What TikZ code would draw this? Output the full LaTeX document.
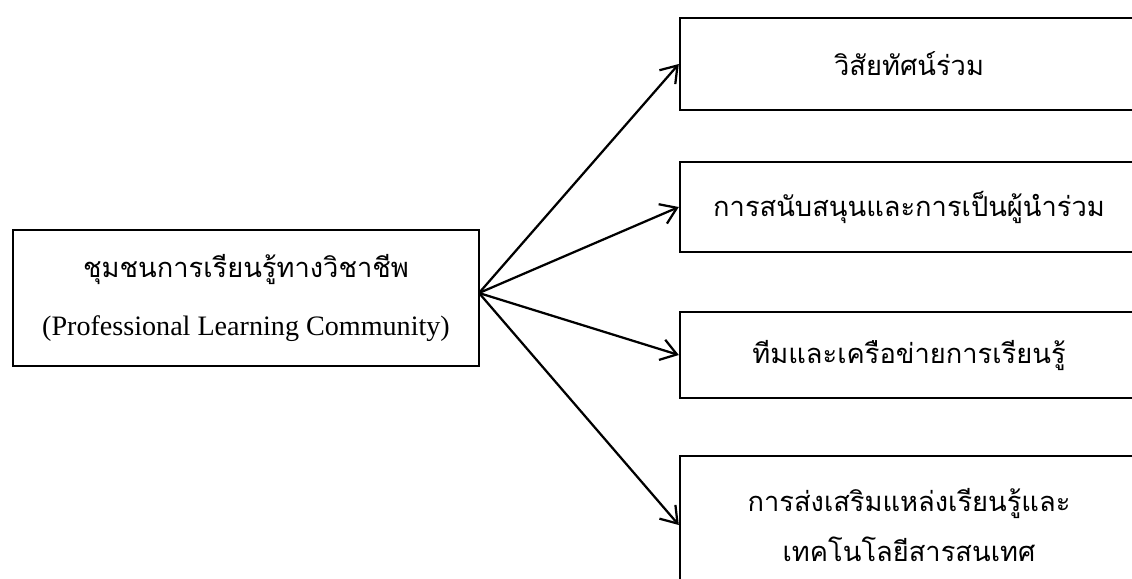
\documentclass[tikz,border=0pt]{standalone}
\usepackage{fontspec}
\setmainfont{Liberation Serif}
\newfontfamily\thaifont[Script=Thai, Scale=0.97]{Loma}
\usetikzlibrary{arrows.meta, positioning}

\tikzset{
  box/.style={draw=black, line width=1.7pt, align=center, inner sep=0pt,
    font=\fontsize{20}{41}\selectfont},
  link/.style={line width=1.6pt, -{Straight Barb[length=11pt, width=15pt]}}
}

\begin{document}
\begin{tikzpicture}
  \clip (0,0) rectangle (28.3,-14.45);
  % Main concept
  \node[box, minimum width=11.65cm, minimum height=3.4cm] (plc) at (6.15,-7.45)
    {{\thaifont ชุมชนการเรียนรู้ทางวิชาชีพ}\\(Professional Learning Community)};
  \coordinate (hub) at (11.975,-7.325);
  % Components
  \node[box, minimum width=11.45cm, minimum height=2.3cm] (vision) at (22.725,-1.6)
    {\thaifont วิสัยทัศน์ร่วม};
  \node[box, minimum width=11.45cm, minimum height=2.25cm] (lead) at (22.725,-5.175)
    {\thaifont การสนับสนุนและการเป็นผู้นำร่วม};
  \node[box, minimum width=11.45cm, minimum height=2.15cm] (team) at (22.725,-8.875)
    {\thaifont ทีมและเครือข่ายการเรียนรู้};
  \node[box, minimum width=11.45cm, minimum height=3.45cm,
    font=\fontsize{20}{35.6}\selectfont] (tech) at (22.725,-13.125)
    {\thaifont การส่งเสริมแหล่งเรียนรู้และ\\\thaifont เทคโนโลยีสารสนเทศ};
  % Arrows
  \foreach \n in {vision, lead, team, tech}
    \draw[link] (hub) -- (\n.west);
\end{tikzpicture}
\end{document}
